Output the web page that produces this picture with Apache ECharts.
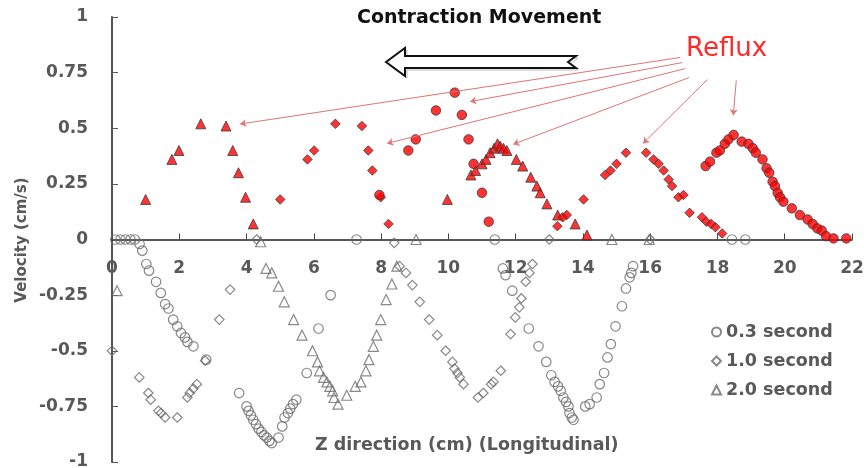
<!DOCTYPE html>
<html><head><meta charset="utf-8">
<script src="https://cdn.jsdelivr.net/npm/echarts@6/dist/echarts.min.js"></script>
<style>html,body{margin:0;padding:0;background:#fff}#c{width:864px;height:468px}</style>
</head><body><div id="c"></div>
<script>
// ---- data (z in cm, velocity in cm/s) ----
const seriesNames = ['0.3 second', '1.0 second', '2.0 second'];
const t03 = [[0.1,0],[0.25,0],[0.4,0],[0.55,0],[0.68,0],
[0.82,-0.02],[0.9,-0.05],[1.02,-0.11],[1.1,-0.14],[1.31,-0.19],[1.45,-0.24],[1.58,-0.29],[1.68,-0.31],[1.82,-0.36],[1.94,-0.39],[2.05,-0.42],[2.17,-0.44],[2.24,-0.46],[2.42,-0.48],[2.8,-0.54],
[3.78,-0.69],[4.0,-0.75],[4.06,-0.77],[4.13,-0.79],[4.2,-0.81],[4.28,-0.83],[4.36,-0.85],[4.44,-0.865],[4.52,-0.88],[4.6,-0.89],[4.68,-0.905],[4.75,-0.915],[4.95,-0.89],[5.06,-0.84],[5.13,-0.8],[5.23,-0.78],[5.3,-0.76],[5.38,-0.74],[5.48,-0.72],[5.79,-0.6],[6.14,-0.4],[6.5,-0.25],[7.27,0],
[7.95,0.2],[8.81,0.4],[9.03,0.45],[9.63,0.58],[10.19,0.66],[10.4,0.56],[10.6,0.45],[10.75,0.34],[11.0,0.21],[11.2,0.08],
[11.38,0],[11.62,-0.13],[11.7,-0.16],[11.9,-0.23],[12.39,-0.4],[12.68,-0.48],[12.91,-0.55],[13.06,-0.61],[13.16,-0.64],[13.26,-0.66],[13.34,-0.68],[13.42,-0.71],[13.5,-0.73],[13.57,-0.75],[13.6,-0.78],[13.67,-0.8],[13.72,-0.81],[14.07,-0.75],[14.2,-0.74],[14.41,-0.71],[14.5,-0.65],[14.63,-0.6],[14.73,-0.53],[14.83,-0.47],[14.97,-0.39],[15.16,-0.3],[15.28,-0.22],[15.39,-0.17],[15.44,-0.15],[15.49,-0.12],
[17.65,0.33],[17.78,0.35],[17.97,0.39],[18.07,0.4],[18.22,0.43],[18.33,0.45],[18.43,0],[18.48,0.47],[18.72,0.44],[18.83,0],[18.92,0.43],[19.05,0.41],[19.14,0.39],[19.34,0.36],[19.46,0.32],[19.54,0.3],[19.64,0.26],[19.71,0.24],[19.79,0.21],[19.86,0.19],[19.96,0.17],[20.21,0.14],[20.45,0.11],[20.68,0.09],[20.83,0.07],[20.97,0.05],[21.1,0.04],[21.23,0.015],[21.45,0.005],[21.83,0.005]];
const t10 = [[0,-0.5],[0.81,-0.62],[1.08,-0.69],[1.15,-0.72],[1.38,-0.77],[1.46,-0.78],[1.58,-0.8],[1.94,-0.8],[2.24,-0.71],[2.31,-0.69],[2.42,-0.67],[2.52,-0.65],[2.77,-0.545],[3.19,-0.36],[3.51,-0.225],[4.3,0],
[5.0,0.18],[5.81,0.36],[6.01,0.4],[6.64,0.52],[7.43,0.51],[7.62,0.4],[7.74,0.31],[7.99,0.19],[8.22,0.07],
[8.39,-0.015],[8.55,-0.12],[8.74,-0.15],[8.93,-0.205],[9.15,-0.28],[9.43,-0.36],[9.67,-0.43],[9.92,-0.5],[10.12,-0.55],[10.18,-0.58],[10.27,-0.6],[10.34,-0.62],[10.45,-0.65],[10.88,-0.71],[11.04,-0.69],[11.27,-0.65],[11.34,-0.64],[11.56,-0.59],[11.85,-0.425],[11.99,-0.35],[12.11,-0.305],[12.17,-0.265],[12.3,-0.19],[12.41,-0.15],[12.5,-0.11],[13.0,0],
[13.24,0.06],[13.4,0.1],[13.52,0.11],[14.02,0.18],[14.66,0.29],[14.82,0.31],[15.0,0.34],[15.28,0.39],[15.88,0.39],[16.0,0],[16.1,0.36],[16.25,0.34],[16.4,0.31],[16.55,0.27],[16.65,0.24],[16.84,0.19],[16.99,0.2],[17.17,0.12],[17.54,0.1],[17.67,0.08],[17.81,0.07],[17.94,0.055],[18.14,0.027]];
const t20 = [[0.15,-0.23],[1.0,0.18],[1.78,0.36],[1.99,0.4],[2.64,0.52],[3.39,0.51],[3.59,0.4],[3.76,0.3],[3.97,0.19],[4.2,0.07],
[4.42,-0.01],[4.58,-0.13],[4.75,-0.15],[4.95,-0.21],[5.12,-0.28],[5.4,-0.36],[5.65,-0.43],[5.96,-0.5],[6.11,-0.55],[6.17,-0.59],[6.29,-0.62],[6.39,-0.64],[6.48,-0.66],[6.56,-0.68],[6.6,-0.71],[6.72,-0.74],[6.98,-0.7],[7.23,-0.66],[7.4,-0.64],[7.55,-0.59],[7.64,-0.54],[7.77,-0.48],[7.87,-0.43],[7.99,-0.36],[8.15,-0.27],[8.32,-0.2],[8.47,-0.12],[9.04,0],
[9.97,0.18],[10.67,0.29],[10.81,0.31],[11.0,0.34],[11.12,0.36],[11.24,0.39],[11.36,0.41],[11.46,0.43],[11.54,0.42],[11.64,0.41],[11.74,0.4],[12.02,0.36],[12.21,0.33],[12.45,0.28],[12.63,0.24],[12.73,0.21],[12.93,0.16],[13.25,0.11],[13.77,0.07],[14.12,0.02],[14.86,0],[15.97,0]];
const xTickLabels = ['0','2','4','6','8','10','12','14','16','18','20','22'];
const yTickLabels = ['-1','-0.75','-0.5','-0.25','0','0.25','0.5','0.75','1'];
// Reflux annotation arrows: [from z, from v, to z, to v]
const refluxArrows = [[16.89,0.818,3.81,0.519],[16.95,0.795,10.65,0.62],[17.04,0.768,8.18,0.432],[17.16,0.728,11.93,0.428],[17.7,0.719,15.79,0.432],[18.56,0.715,18.47,0.558]];

const FONT = 'DejaVu Sans';
const GRAY = '#595959';
function styled(arr) {
  return arr.map(p => p[1] > 0
    ? {value: p, itemStyle: {color: '#ff0000', borderColor: '#3a3a3a', borderWidth: 1}}
    : {value: p, itemStyle: {color: 'rgba(255,255,255,0)', borderColor: '#6a6a6a', borderWidth: 1.2}});
}
const symbols = ['circle', 'diamond', 'triangle'];
const sizes = [9.5, 9.5, 10];
const allData = [t03, t10, t20];

const series = allData.map((d, i) => ({
  name: seriesNames[i], type: 'scatter', symbol: symbols[i], symbolSize: sizes[i],
  itemStyle: {color: 'rgba(255,255,255,0)', borderColor: '#6a6a6a', borderWidth: 1.2},
  data: styled(d), z: 3 - i
}));
series.push({
  name: 'reflux', type: 'scatter', data: [], silent: true,
  markLine: {
    silent: true, animation: false, symbol: ['none', 'arrow'], symbolSize: 6,
    label: {show: false},
    lineStyle: {color: '#e07474', width: 1, type: 'solid'},
    data: refluxArrows.map(a => [{coord: [a[0], a[1]]}, {coord: [a[2], a[3]]}])
  }
});

const GRID = {left: 112, right: 12, top: 17, bottom: 6};
const plotH = 468 - GRID.top - GRID.bottom;

const chart = echarts.init(document.getElementById('c'));
chart.setOption({
  animation: false,
  backgroundColor: '#ffffff',
  grid: Object.assign({containLabel: false, outerBoundsMode: 'none'}, GRID),
  xAxis: {
    type: 'value', min: 0, max: 22, interval: 2, position: 'bottom',
    offset: -plotH / 2,
    axisLine: {onZero: false, lineStyle: {color: '#222', width: 1.5}},
    axisTick: {inside: true, length: 6, lineStyle: {color: '#444'}},
    splitLine: {show: false},
    axisLabel: {margin: 21, color: GRAY, fontFamily: FONT, fontWeight: 'bold', fontSize: 17,
      formatter: v => xTickLabels[Math.round(v / 2)]}
  },
  yAxis: {
    type: 'value', min: -1, max: 1, interval: 0.25,
    axisLine: {show: true, onZero: false, lineStyle: {color: '#555', width: 2}},
    axisTick: {show: true, inside: true, length: 6, lineStyle: {color: '#555'}},
    splitLine: {show: false},
    axisLabel: {margin: 24, color: GRAY, fontFamily: FONT, fontWeight: 'bold', fontSize: 17,
      formatter: v => yTickLabels[Math.round((v + 1) / 0.25)]}
  },
  legend: {
    orient: 'vertical', left: 706, top: 318, itemGap: 11, itemWidth: 9, itemHeight: 9,
    data: seriesNames.map((n, i) => ({name: n, icon: symbols[i]})),
    textStyle: {color: GRAY, fontFamily: FONT, fontWeight: 'bold', fontSize: 17.5},
    selectedMode: false
  },
  graphic: [
    {type: 'text', left: 357, top: 9, style: {text: 'Contraction Movement', fill: '#111', font: 'bold 19px "DejaVu Sans"'}},
    {type: 'text', left: 686, top: 36, style: {text: 'Reflux', fill: '#ff2a2a', font: '26px "DejaVu Sans"'}},
    {type: 'text', rotation: Math.PI / 2, x: 22, y: 240,
      style: {text: 'Velocity (cm/s)', fill: GRAY, font: 'bold 15px "DejaVu Sans"', align: 'center', verticalAlign: 'middle'}},
    {type: 'text', left: 315, top: 436, style: {text: 'Z direction (cm) (Longitudinal)', fill: GRAY, font: 'bold 17.5px "DejaVu Sans"'}},
    {type: 'polygon', shape: {points: [[386,62],[405,48],[405,56],[576,56],[568,62],[576,68],[405,68],[405,76]]},
      style: {fill: '#fff', stroke: '#111', lineWidth: 2}, z: 10},
    {type: 'polygon', shape: {points: [[388,64],[407,50],[407,58],[578,58],[570,64],[578,70],[407,70],[407,78]]},
      style: {fill: 'none', stroke: '#bbb', lineWidth: 1}, z: 9}
  ],
  series: series
});
</script></body></html>
